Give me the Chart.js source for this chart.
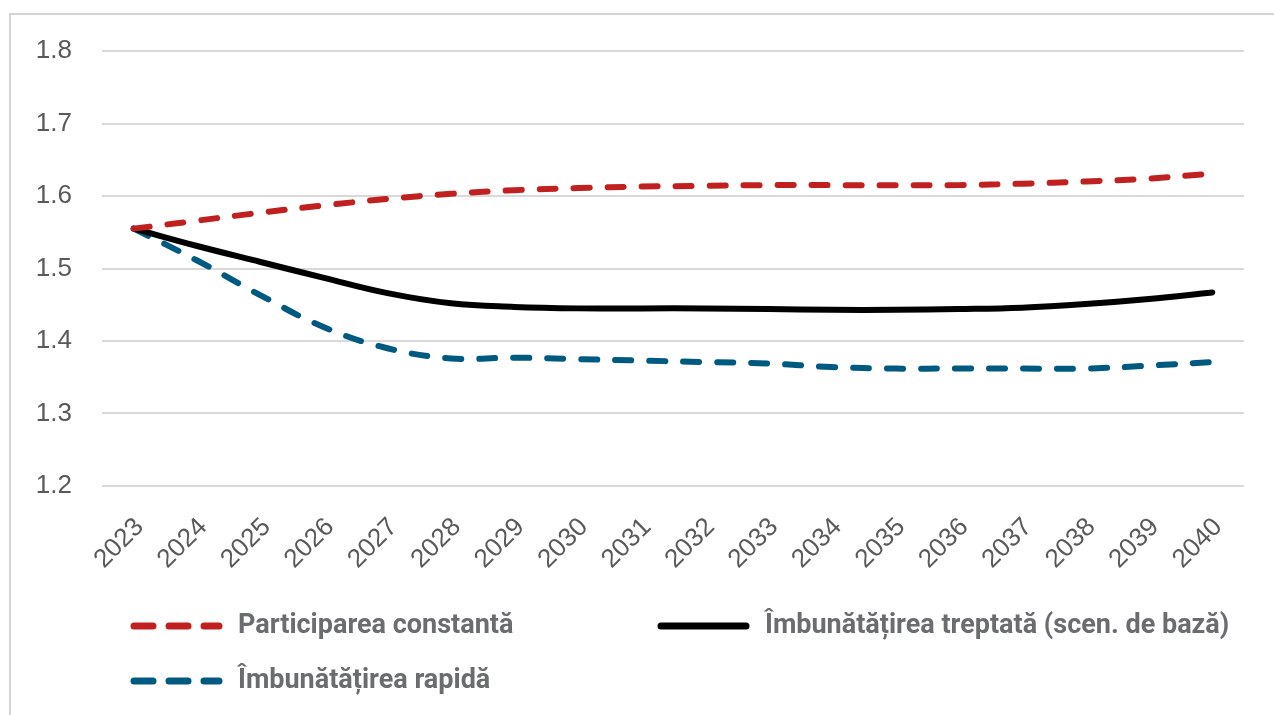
<!DOCTYPE html>
<html>
<head>
<meta charset="utf-8">
<script src="https://cdn.jsdelivr.net/npm/chart.js@4/dist/chart.umd.min.js"></script>
<style>
  html, body { margin: 0; padding: 0; background: #fff; }
  #wrap { position: relative; width: 1274px; height: 715px; overflow: hidden; }
  #frame { position: absolute; left: 9px; top: 13px; width: 1300px; height: 800px; border-left: 2px solid #d4d4d4; border-top: 2px solid #d4d4d4; box-sizing: border-box; pointer-events: none; }
  canvas { position: absolute; left: 0; top: 0; }
</style>
</head>
<body>
<div id="wrap">
  <canvas id="c" width="1274" height="715"></canvas>
  <div id="frame"></div>
</div>
<script>
const years = ['2023','2024','2025','2026','2027','2028','2029','2030','2031','2032','2033','2034','2035','2036','2037','2038','2039','2040'];
const constanta = [1.555,1.566,1.577,1.587,1.596,1.603,1.608,1.611,1.613,1.614,1.615,1.615,1.615,1.615,1.617,1.620,1.624,1.631];
const treptata  = [1.555,1.531,1.509,1.487,1.466,1.452,1.447,1.445,1.445,1.445,1.444,1.443,1.443,1.444,1.446,1.451,1.458,1.467];
const rapida    = [1.555,1.511,1.463,1.419,1.390,1.376,1.377,1.375,1.373,1.371,1.369,1.364,1.362,1.362,1.362,1.362,1.366,1.371];
const seriesNames = ['Participarea constantă', 'Îmbunătățirea treptată (scen. de bază)', 'Îmbunătățirea rapidă'];
const yTicks = [1.2, 1.3, 1.4, 1.5, 1.6, 1.7, 1.8];

const RED = '#c0201f', BLACK = '#000000', BLUE = '#005a7f';
const DASH = [16, 18];

const legendPos = [
  {x: 130, y: 626}, {x: 657, y: 626}, {x: 130, y: 681}
];

const customLegend = {
  id: 'customLegend',
  afterDraw(chart) {
    const ctx = chart.ctx;
    ctx.save();
    chart.data.datasets.forEach((ds, i) => {
      const p = legendPos[i];
      ctx.beginPath();
      ctx.strokeStyle = ds.borderColor;
      ctx.lineWidth = 7;
      ctx.lineCap = 'round';
      ctx.setLineDash(ds.borderDash && ds.borderDash.length ? [19, 16] : []);
      ctx.moveTo(p.x + 4, p.y);
      ctx.lineTo(p.x + 89, p.y);
      ctx.stroke();
      ctx.setLineDash([]);
      ctx.fillStyle = '#6b6c70';
      ctx.font = 'bold 27px Roboto';
      ctx.textBaseline = 'middle';
      ctx.textAlign = 'left';
      ctx.fillText(ds.label, p.x + 108, p.y);
    });
    ctx.restore();
  }
};

new Chart(document.getElementById('c'), {
  type: 'line',
  data: {
    labels: years,
    datasets: [
      { label: seriesNames[0], data: constanta, borderColor: RED, borderDash: DASH, borderWidth: 6, borderCapStyle: 'round' },
      { label: seriesNames[1], data: treptata, borderColor: BLACK, borderDash: [], borderWidth: 6, borderCapStyle: 'round' },
      { label: seriesNames[2], data: rapida, borderColor: BLUE, borderDash: DASH, borderWidth: 6, borderCapStyle: 'round' }
    ]
  },
  options: {
    responsive: false,
    animation: false,
    layout: { padding: { left: 0, top: 51, right: 30, bottom: 129 } },
    elements: { point: { radius: 0 }, line: { tension: 0.4, fill: false } },
    plugins: { legend: { display: false }, tooltip: { enabled: false } },
    scales: {
      x: {
        offset: true,
        grid: { display: false, drawTicks: false },
        border: { display: false },
        ticks: { color: '#595959', font: { family: 'Liberation Sans', size: 26 }, maxRotation: 45, minRotation: 45, padding: 26, labelOffset: 6, autoSkip: false },
        afterFit(s) { s.height = 100; }
      },
      y: {
        min: 1.2, max: 1.8,
        afterBuildTicks(s) { s.ticks = yTicks.map(v => ({ value: v })); },
        grid: { color: '#d9d9d9', lineWidth: 2, drawTicks: false },
        border: { display: false },
        ticks: { color: '#595959', font: { family: 'Liberation Sans', size: 26 }, padding: 30, callback: v => v.toFixed(1) },
        afterFit(s) { s.width = 102; }
      }
    }
  },
  plugins: [customLegend]
});
</script>
</body>
</html>
